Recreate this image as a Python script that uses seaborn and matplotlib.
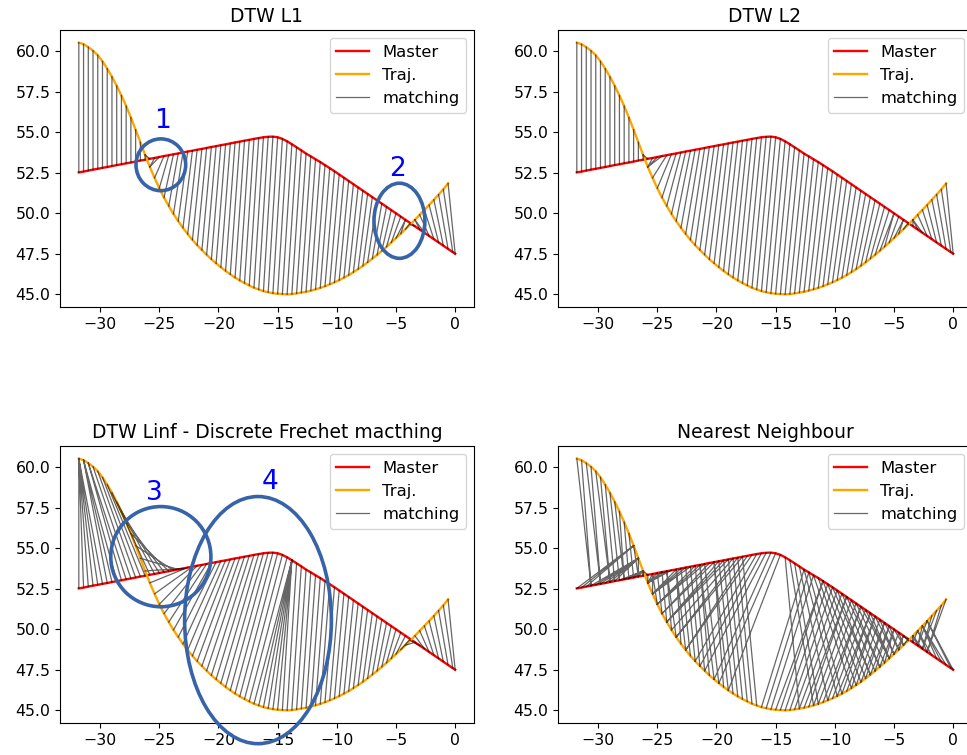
import numpy as np
import matplotlib
matplotlib.use("Agg")
import matplotlib.pyplot as plt
from matplotlib.patches import Ellipse
import seaborn as sns

# ---------------- data ----------------
traj_x = [-31.8, -31.4, -31.0, -30.6, -30.2, -29.8, -29.4, -29.0, -28.6, -28.2,
          -27.8, -27.4, -27.0, -26.6, -26.2, -25.8, -25.4, -25.0, -24.6, -24.2,
          -23.8, -23.4, -23.0, -22.6, -22.2, -21.8, -21.4, -21.0, -20.6, -20.2,
          -19.8, -19.4, -19.0, -18.6, -18.2, -17.8, -17.4, -17.0, -16.6, -16.2,
          -15.8, -15.4, -15.0, -14.6, -14.2, -13.8, -13.4, -13.0, -12.6, -12.2,
          -11.8, -11.4, -11.0, -10.6, -10.2, -9.8, -9.4, -9.0, -8.6, -8.2,
          -7.8, -7.4, -7.0, -6.6, -6.2, -5.8, -5.4, -5.0, -4.6, -4.2,
          -3.8, -3.4, -3.0, -2.6, -2.2, -1.8, -1.4, -1.0, -0.6]
traj_y = [60.55, 60.45, 60.27, 60.05, 59.77, 59.39, 58.94, 58.44, 57.88, 57.28,
          56.63, 55.92, 55.17, 54.39, 53.61, 52.87, 52.19, 51.55, 50.97, 50.45,
          49.96, 49.52, 49.10, 48.72, 48.36, 48.03, 47.73, 47.44, 47.16, 46.91,
          46.67, 46.44, 46.23, 46.03, 45.85, 45.69, 45.54, 45.40, 45.29, 45.19,
          45.12, 45.06, 45.03, 45.01, 44.99, 45.01, 45.05, 45.10, 45.15, 45.22,
          45.30, 45.39, 45.49, 45.61, 45.73, 45.87, 46.02, 46.18, 46.36, 46.55,
          46.75, 46.97, 47.20, 47.43, 47.68, 47.93, 48.20, 48.47, 48.74, 49.02,
          49.31, 49.60, 49.91, 50.21, 50.52, 50.84, 51.16, 51.48, 51.85]

master_x = [-31.8, -31.4, -31.0, -30.6, -30.2, -29.8, -29.4, -29.0, -28.6, -28.2,
            -27.8, -27.4, -27.0, -26.6, -26.2, -25.8, -25.4, -25.0, -24.6, -24.2,
            -23.8, -23.4, -23.0, -22.6, -22.2, -21.8, -21.4, -21.0, -20.6, -20.2,
            -19.8, -19.4, -19.0, -18.6, -18.2, -17.8, -17.4, -17.0, -16.6, -16.2,
            -15.8, -15.4, -15.0, -14.6, -14.2, -13.8, -13.4, -13.0, -12.6, -12.2,
            -11.8, -11.4, -11.0, -10.6, -10.2, -9.8, -9.4, -9.0, -8.6, -8.2,
            -7.8, -7.4, -7.0, -6.6, -6.2, -5.8, -5.4, -5.0, -4.6, -4.2,
            -3.8, -3.4, -3.0, -2.6, -2.2, -1.8, -1.4, -1.0, -0.6, -0.2, 0.0]
master_y = [52.53, 52.58, 52.64, 52.70, 52.75, 52.81, 52.86, 52.92, 52.98, 53.03,
            53.09, 53.14, 53.20, 53.26, 53.31, 53.37, 53.42, 53.48, 53.54, 53.59,
            53.65, 53.70, 53.76, 53.82, 53.87, 53.93, 53.98, 54.04, 54.10, 54.15,
            54.21, 54.26, 54.32, 54.38, 54.43, 54.49, 54.54, 54.60, 54.65, 54.70,
            54.73, 54.74, 54.70, 54.60, 54.45, 54.27, 54.08, 53.89, 53.69, 53.52,
            53.34, 53.17, 52.98, 52.79, 52.60, 52.40, 52.20, 52.00, 51.80, 51.60,
            51.40, 51.20, 51.00, 50.80, 50.60, 50.40, 50.20, 50.00, 49.80, 49.60,
            49.40, 49.20, 49.00, 48.80, 48.60, 48.40, 48.20, 48.00, 47.80, 47.60, 47.50]

titles = ["DTW L1", "DTW L2", "DTW Linf - Discrete Frechet macthing", "Nearest Neighbour"]
methods = ["l1", "l2", "linf", "nn"]
legend_labels = ["Master", "Traj.", "matching"]

# annotation overlays: (panel, centre x, centre y, width, height, label, label x, label y)
marks = [
    (0, -24.87, 53.0, 4.2, 3.2, "1", -24.7, 55.7),
    (0, -4.71, 49.54, 4.3, 4.64, "2", -4.87, 52.75),
    (2, -24.87, 54.49, 8.46, 6.19, "3", -25.38, 58.45),
    (2, -16.66, 50.57, 12.4, 15.27, "4", -15.63, 59.13),
]

# ---------------- matching computations ----------------
T = np.column_stack([traj_x, traj_y])
M = np.column_stack([master_x, master_y])
D = np.sqrt(((T[:, None, :] - M[None, :, :]) ** 2).sum(-1))


def warp(D, mode):
    n, m = D.shape
    cost = D ** 2 if mode == "l2" else D
    C = np.full((n, m), np.inf)
    for i in range(n):
        for j in range(m):
            if i == 0 and j == 0:
                C[i, j] = cost[0, 0]
                continue
            prev = np.inf
            if i > 0 and j > 0:
                prev = min(prev, C[i - 1, j - 1])
            if i > 0:
                prev = min(prev, C[i - 1, j])
            if j > 0:
                prev = min(prev, C[i, j - 1])
            C[i, j] = max(prev, cost[i, j]) if mode == "linf" else prev + cost[i, j]
    i, j = n - 1, m - 1
    path = [(i, j)]
    while (i, j) != (0, 0):
        cands = []
        if i > 0 and j > 0:
            cands.append((C[i - 1, j - 1], 0, i - 1, j - 1))
        if i > 0:
            cands.append((C[i - 1, j], 1, i - 1, j))
        if j > 0:
            cands.append((C[i, j - 1], 2, i, j - 1))
        _, _, i, j = min(cands)
        path.append((i, j))
    return path[::-1]


def nearest(D):
    pairs = [(i, int(np.argmin(D[i]))) for i in range(D.shape[0])]
    pairs += [(int(np.argmin(D[:, j])), j) for j in range(D.shape[1])]
    return pairs


# ---------------- drawing ----------------
plt.rcParams["font.size"] = 11.3
plt.rcParams["axes.titlesize"] = 13.5
plt.rcParams["legend.fontsize"] = 11.8

fig = plt.figure(figsize=(9.67, 7.55), dpi=100)
W, H = 967.0, 755.0
boxes = [(60, 30), (558, 30), (60, 446), (558, 446)]
axes = []
for (lx, ty) in boxes:
    axes.append(fig.add_axes([lx / W, 1 - (ty + 277) / H, 414 / W, 277 / H]))

for k, ax in enumerate(axes):
    sns.lineplot(x=master_x, y=master_y, ax=ax, color="red", lw=1.7, sort=False,
                 label=legend_labels[0])
    sns.lineplot(x=traj_x, y=traj_y, ax=ax, color="orange", lw=1.7, sort=False,
                 label=legend_labels[1])
    pairs = nearest(D) if methods[k] == "nn" else warp(D, methods[k])
    xs, ys = [], []
    for (i, j) in pairs:
        xs += [traj_x[i], master_x[j], np.nan]
        ys += [traj_y[i], master_y[j], np.nan]
    ax.plot(xs, ys, color="k", alpha=0.6, lw=0.9, label=legend_labels[2])
    ax.legend(loc="upper right")
    ax.set_title(titles[k])

for (p, cx, cy, w, h, lab, tx, ty) in marks:
    ax = axes[p]
    e = Ellipse((cx, cy), w, h, fill=False, edgecolor="#3763a8", lw=2.6,
                clip_on=False, zorder=10, transform=ax.transData)
    ax.add_artist(e)
    ax.text(tx, ty, lab, color="blue", fontsize=19, ha="center", va="center",
            zorder=11)

fig.savefig("out.png", dpi=100)
